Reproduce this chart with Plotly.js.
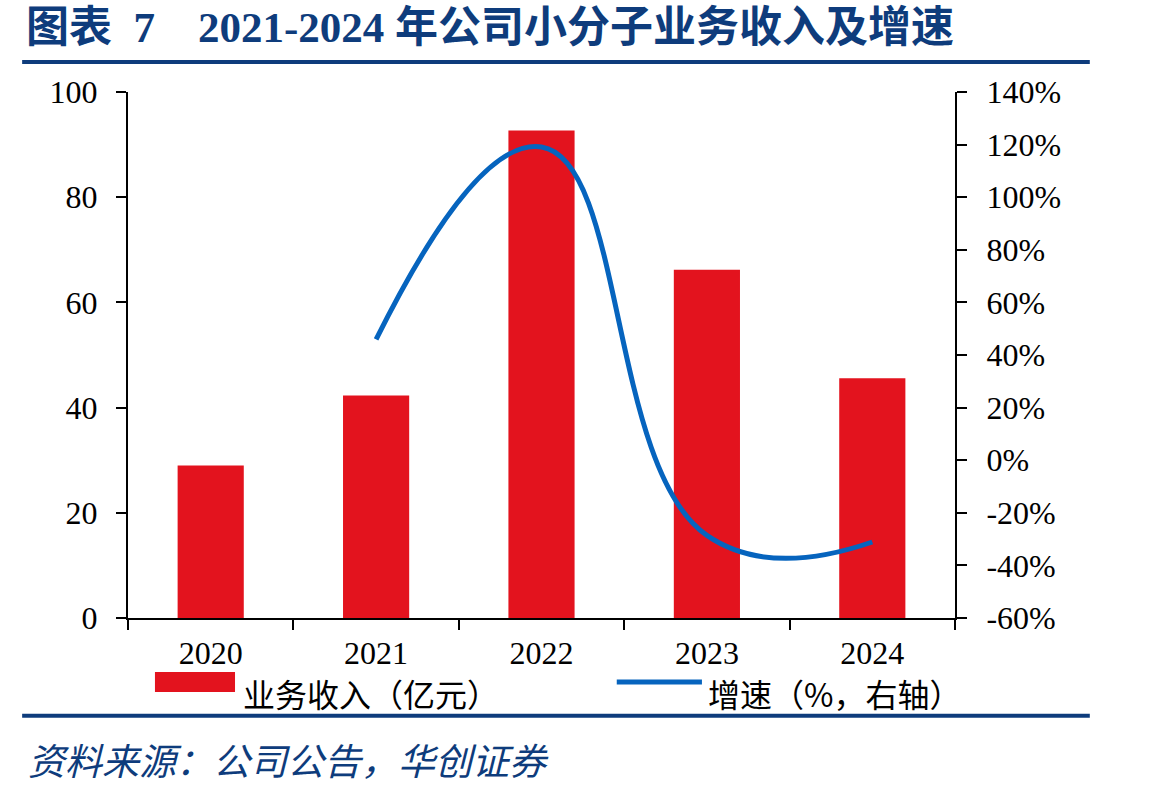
<!DOCTYPE html>
<html>
<head>
<meta charset="utf-8">
<script src="https://cdn.plot.ly/plotly-3.0.1.min.js"></script>
<style>
  html, body { margin: 0; padding: 0; background: #ffffff; }
  #chart { width: 1149px; height: 792px; }
</style>
</head>
<body>
<div id="chart"></div>
<script>
// 小分子业务收入（亿元）及同比增速（%）
const years = ['2020', '2021', '2022', '2023', '2024'];
const revenue = [29.0, 42.3, 92.7, 66.2, 45.6];
const growthYears = ['2021', '2022', '2023', '2024'];
const growth = [45.9, 119.1, -28.6, -31.1];

const leftTicks = [0, 20, 40, 60, 80, 100];
const rightTicks = [-60, -40, -20, 0, 20, 40, 60, 80, 100, 120, 140];
const rightTickText = rightTicks.map(v => v + '%');

const chartTitle = '图表\u20027\u2002\u20022021-2024 年公司小分子业务收入及增速';
const sourceText = '资料来源：公司公告，华创证券';
const barName = '业务收入（亿元）';
const lineName = '增速（%，右轴）';

const RED = '#E3131E';
const BLUE = '#0664BE';
const NAVY = '#0E3C7C';
const SERIF = '"Liberation Serif", "Times New Roman", serif';
const CJK = '"Noto Sans CJK SC", sans-serif';
const tickFont = { family: SERIF, size: 32, color: '#000000' };

const traces = [
  {
    type: 'bar',
    name: barName,
    x: years,
    y: revenue,
    marker: { color: RED },
    showlegend: false,
    hoverinfo: 'x+y'
  },
  {
    type: 'scatter',
    mode: 'lines',
    name: lineName,
    x: growthYears,
    y: growth,
    yaxis: 'y2',
    line: { color: BLUE, width: 5, shape: 'spline', smoothing: 1.3 },
    showlegend: false,
    cliponaxis: false,
    hoverinfo: 'x+y'
  }
];

const layout = {
  width: 1149,
  height: 792,
  margin: { l: 128, r: 194, t: 92, b: 174 },
  paper_bgcolor: '#ffffff',
  plot_bgcolor: '#ffffff',
  bargap: 0.6,
  showlegend: false,
  title: {
    text: chartTitle,
    font: { family: SERIF + ', ' + CJK, size: 43, color: NAVY, weight: 'bold' },
    x: 26 / 1149,
    xanchor: 'left',
    xref: 'container',
    y: 1 - 27 / 792,
    yanchor: 'middle',
    yref: 'container'
  },
  xaxis: {
    type: 'category',
    categoryorder: 'array',
    categoryarray: years,
    showline: true,
    linecolor: '#000000',
    linewidth: 2,
    ticks: 'outside',
    tickson: 'boundaries',
    ticklen: 10,
    tickwidth: 2,
    tickcolor: '#000000',
    tickfont: tickFont,
    ticklabelstandoff: 6,
    showgrid: false,
    zeroline: false,
    fixedrange: true
  },
  yaxis: {
    range: [0, 100],
    tickvals: leftTicks,
    showline: true,
    linecolor: '#000000',
    linewidth: 2,
    ticks: 'outside',
    ticklen: 10,
    tickwidth: 2,
    tickcolor: '#000000',
    tickfont: tickFont,
    ticklabelstandoff: 12,
    showgrid: false,
    zeroline: false,
    fixedrange: true
  },
  yaxis2: {
    overlaying: 'y',
    side: 'right',
    range: [-60, 140],
    tickvals: rightTicks,
    ticktext: rightTickText,
    showline: true,
    linecolor: '#000000',
    linewidth: 2,
    ticks: 'outside',
    ticklen: 10,
    tickwidth: 2,
    tickcolor: '#000000',
    tickfont: tickFont,
    ticklabelstandoff: 13,
    showgrid: false,
    zeroline: false,
    fixedrange: true
  },
  shapes: [
    // rule under the heading
    { type: 'line', xref: 'paper', yref: 'paper', x0: -0.128, x1: 1.163, y0: 1.057, y1: 1.057,
      line: { color: NAVY, width: 4 } },
    // rule above the source note
    { type: 'line', xref: 'paper', yref: 'paper', x0: -0.128, x1: 1.163, y0: -0.186, y1: -0.186,
      line: { color: NAVY, width: 4 } },
    // legend keys
    { type: 'rect', xref: 'paper', yref: 'paper', x0: 0.0326, x1: 0.1294, y0: -0.1407, y1: -0.1027,
      fillcolor: RED, line: { width: 0 } },
    { type: 'line', xref: 'paper', yref: 'paper', x0: 0.591, x1: 0.694, y0: -0.1217, y1: -0.1217,
      line: { color: BLUE, width: 5 } }
  ],
  annotations: [
    { xref: 'paper', yref: 'paper', x: 0.137, y: -0.1425, xanchor: 'left', yanchor: 'middle',
      text: barName, showarrow: false, font: { family: CJK, size: 32, color: '#000000' } },
    { xref: 'paper', yref: 'paper', x: 0.699, y: -0.1425, xanchor: 'left', yanchor: 'middle',
      text: lineName, showarrow: false, font: { family: CJK, size: 32, color: '#000000' } },
    { xref: 'paper', yref: 'paper', x: -0.123, y: -0.268, xanchor: 'left', yanchor: 'middle',
      text: sourceText, showarrow: false,
      font: { family: CJK, size: 37, color: NAVY, style: 'italic' } }
  ]
};

Plotly.newPlot('chart', traces, layout, { displayModeBar: false, staticPlot: true });
</script>
</body>
</html>
